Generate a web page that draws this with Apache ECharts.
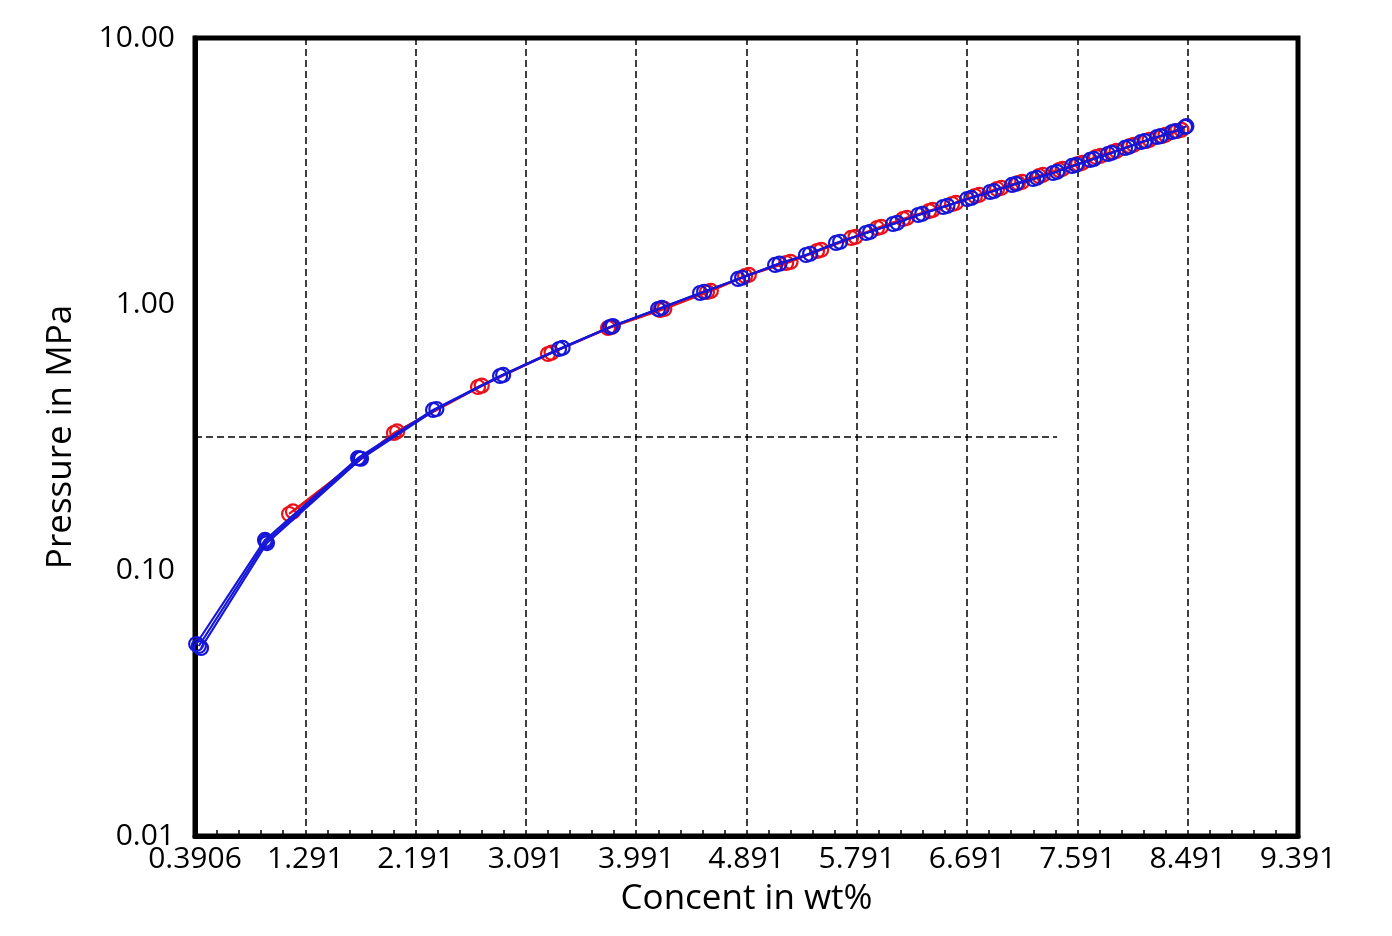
<!DOCTYPE html>
<html>
<head>
<meta charset="utf-8">
<script src="https://cdn.jsdelivr.net/npm/echarts@6/dist/echarts.min.js"></script>
<style>
html,body{margin:0;padding:0;background:#fff;}
#c{width:1392px;height:936px;}
</style>
</head>
<body>
<div id="c"></div>
<script>
// x-axis origin and tick labels
const X0 = 0.3906;
const xTickLabels = ['0.3906','1.291','2.191','3.091','3.991','4.891','5.791','6.691','7.591','8.491','9.391'];
const yTickValues = [0.01, 0.1, 1, 10];

// [concentration wt%, pressure MPa]
const red1 = [[1.158,0.1624],[2.014,0.3273],[2.700,0.4876],[3.271,0.6486],[3.761,0.8125],[4.185,0.9493],[4.568,1.110],[4.879,1.274],[5.214,1.426],[5.466,1.582],[5.744,1.771],[5.956,1.931],[6.168,2.087],[6.380,2.236],[6.568,2.376],[6.755,2.547],[6.935,2.706],[7.106,2.850],[7.278,3.028],[7.441,3.190],[7.596,3.360],[7.743,3.569],[7.881,3.727],[8.020,3.926],[8.151,4.101],[8.281,4.281],[8.404,4.471]];
const red2 = [[1.19,0.166],[2.04,0.332],[2.73,0.493],[3.30,0.656],[3.79,0.820],[4.22,0.958],[4.60,1.120],[4.91,1.287],[5.25,1.441],[5.50,1.598],[5.78,1.789],[5.99,1.950],[6.20,2.108],[6.41,2.258],[6.60,2.400],[6.79,2.572],[6.97,2.733],[7.14,2.879],[7.31,3.058],[7.47,3.222],[7.63,3.394],[7.78,3.605],[7.91,3.764],[8.05,3.965],[8.18,4.142],[8.31,4.324],[8.44,4.516]];
const blue1 = [[0.400,0.0527],[0.962,0.1297],[1.721,0.2637],[2.333,0.3996],[2.880,0.5362],[3.361,0.6774],[3.777,0.8196],[4.169,0.9576],[4.512,1.100],[4.822,1.242],[5.124,1.402],[5.376,1.528],[5.621,1.696],[5.866,1.849],[6.086,1.999],[6.291,2.161],[6.495,2.316],[6.691,2.481],[6.878,2.637],[7.057,2.803],[7.229,2.951],[7.392,3.108],[7.547,3.303],[7.694,3.479],[7.840,3.664],[7.979,3.860],[8.110,4.064],[8.240,4.245],[8.363,4.432],[8.469,4.628]];
const blue2 = [[0.440,0.0509],[0.978,0.1263],[1.745,0.2620],[2.360,0.4030],[2.905,0.5410],[3.390,0.6840],[3.800,0.8260],[4.200,0.9670],[4.545,1.112],[4.855,1.255],[5.160,1.418],[5.410,1.545],[5.655,1.714],[5.900,1.868],[6.120,2.020],[6.325,2.183],[6.530,2.340],[6.725,2.505],[6.910,2.660],[7.090,2.830],[7.260,2.980],[7.425,3.140],[7.580,3.335],[7.725,3.510],[7.870,3.700],[8.010,3.900],[8.140,4.100],[8.270,4.280],[8.390,4.470],[8.480,4.660]];
const blue3 = [[0.422,0.0518],[0.970,0.1280],[1.733,0.2625]];
const refLine = [[0.3906,0.3162],[7.425,0.3162]];

const shift = arr => arr.map(d => [d[0] - X0, d[1]]);
const RED = '#e8121b', BLUE = '#1616d8';
const FONT = 'Open Sans';

function markerSeries(data, color, z){
  return {
    type:'line', data: shift(data), z: z,
    symbol:'circle', symbolSize: 14,
    lineStyle:{color: color, width: 2.2},
    itemStyle:{color: 'rgba(0,0,0,0)', borderColor: color, borderWidth: 2.2},
    emphasis:{disabled:true}
  };
}

const chart = echarts.init(document.getElementById('c'));
chart.setOption({
  animation:false,
  backgroundColor:'#fff',
  grid:{left:195, right:94, top:38, bottom:100, show:true, borderColor:'#000', borderWidth:5, backgroundColor:'transparent'},
  xAxis:{
    type:'value', min:0, max:9, interval:0.9,
    name:'Concent in wt%', nameLocation:'middle', nameGap:46,
    nameTextStyle:{fontFamily:FONT, fontSize:35, color:'#000'},
    axisLine:{show:true, lineStyle:{color:'#000', width:5}},
    axisTick:{show:false},
    minorTick:{show:true, splitNumber:5, length:-6, lineStyle:{color:'#000', width:1.5}},
    axisLabel:{fontFamily:FONT, fontSize:30, color:'#000', margin:8,
      formatter: v => xTickLabels[Math.round(v/0.9)]},
    splitLine:{show:true, lineStyle:{color:'#000', width:1.5, type:[7,4]}},
    minorSplitLine:{show:false}
  },
  yAxis:{
    type:'log', logBase:10, min:yTickValues[0], max:yTickValues[3],
    name:'Pressure in MPa', nameLocation:'middle', nameGap:116, nameRotate:90,
    nameTextStyle:{fontFamily:FONT, fontSize:35, color:'#000'},
    axisLine:{show:true, lineStyle:{color:'#000', width:5}},
    axisTick:{show:false},
    axisLabel:{fontFamily:FONT, fontSize:30, color:'#000', margin:20,
      formatter: v => Number(v).toFixed(2)},
    splitLine:{show:false}
  },
  series:[
    {type:'line', data: shift(refLine), symbol:'none', z:1,
     lineStyle:{color:'#000', width:1.3, type:[7,4]}, emphasis:{disabled:true}},
    markerSeries(red1, RED, 2),
    markerSeries(red2, RED, 2),
    markerSeries(blue1, BLUE, 3),
    markerSeries(blue2, BLUE, 3),
    markerSeries(blue3, BLUE, 3)
  ]
});
</script>
</body>
</html>
